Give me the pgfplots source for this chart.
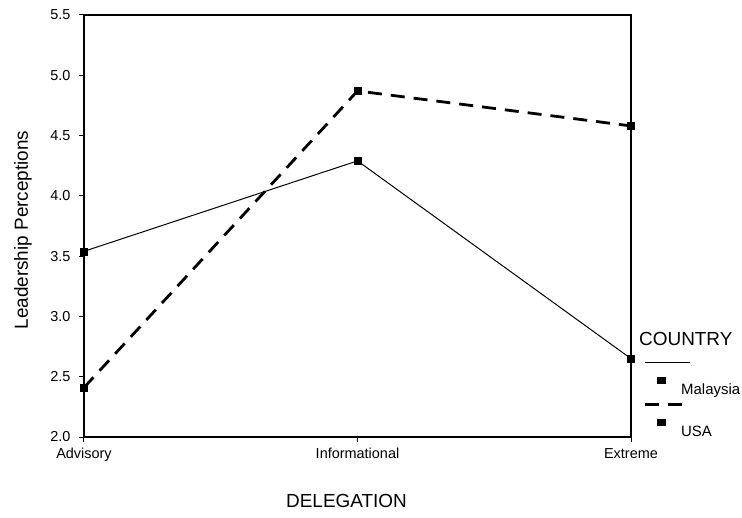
\documentclass[border=0pt]{standalone}
\usepackage{fontspec}
\setmainfont{Liberation Sans}
\usepackage{pgfplots}
\pgfplotsset{compat=1.18}
\pgfplotsset{
  mylegimg/.style={legend image code/.code={%
    \path[draw=none,fill=none] (-4bp,0bp) rectangle (4bp,12bp);
    \draw[overlay,#1,mark=none] (-16bp,27bp) -- (29bp,27bp);
    \fill[overlay,black,draw=none] (-4.5bp,5.5bp) rectangle (4.5bp,12.5bp);
  }},
}
\begin{document}
\begin{tikzpicture}
\begin{axis}[
  name=ax,
  scale only axis,
  width=547bp, height=422bp,
  xmin=0, xmax=2, ymin=2, ymax=5.5,
  xtick={0,1,2},
  xticklabels={Advisory,Informational,Extreme},
  ytick={2,2.5,3,3.5,4,4.5,5,5.5},
  yticklabel style={/pgf/number format/fixed,/pgf/number format/fixed zerofill,/pgf/number format/precision=1, xshift=-5bp},
  xticklabel style={yshift=-3bp},
  /pgf/number format/assume math mode=true,
  tick label style={font=\fontsize{14.5}{17}\selectfont},
  label style={font=\fontsize{19}{22}\selectfont},
  tick align=outside,
  major tick length=5bp,
  xtick pos=bottom, ytick pos=left,
  axis line style={line width=1.2bp},
  tick style={line width=1bp, black},
  xlabel={DELEGATION},
  ylabel={Leadership Perceptions},
  xlabel style={at={(0.4799,-0.1528)}, anchor=center},
  ylabel style={at={(-0.1115,0.4905)}, anchor=center},
  clip=false,
  legend style={at={(rel axis cs:1,0)}, anchor=south west, xshift=26bp, yshift=-1bp,
    draw=none, inner sep=0pt,
    nodes={inner sep=0pt},
    font=\fontsize{15}{18}\selectfont,
    row sep=24bp, column sep=16bp,
    cells={anchor=west}},
  mylegimg,
]
\addplot[black, line width=1bp, mark=square*, mark size=3.5bp, mark options={solid, line width=0.5bp}]
  coordinates {(0,3.54) (1,4.29) (2,2.65)};
\addlegendentry{Malaysia}
\addplot[black, line width=2.8bp, dash pattern=on 14bp off 9bp, mark=square*, mark size=3.5bp, mark options={solid, line width=0.5bp}]
  coordinates {(0,2.41) (1,4.87) (2,4.58)};
\addlegendentry{USA}
\node[anchor=west, font=\fontsize{19}{22}\selectfont, inner sep=0pt] at (rel axis cs:1.0146,0.2334) {COUNTRY};
\end{axis}
\pgfresetboundingbox
\path ([xshift=-84bp,yshift=-81bp]ax.south west) rectangle ([xshift=111bp,yshift=15bp]ax.north east);
\end{tikzpicture}
\end{document}
